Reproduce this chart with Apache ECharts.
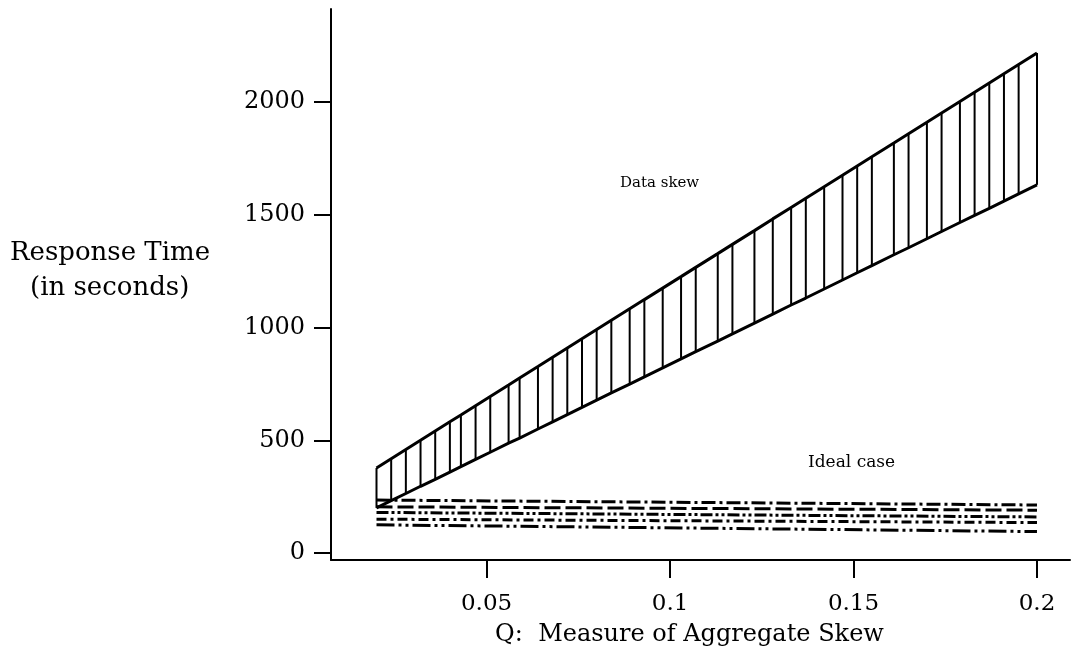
<!DOCTYPE html>
<html>
<head>
<meta charset="utf-8">
<script src="https://cdn.jsdelivr.net/npm/echarts@6/dist/echarts.min.js"></script>
<style>
  html, body { margin: 0; padding: 0; background: #fff; }
  #chart { width: 1074px; height: 654px; }
</style>
</head>
<body>
<div id="chart"></div>
<script>
// Q values where the data-skew range was measured (one hatch line each)
const skewQ = [0.020, 0.024, 0.028, 0.032, 0.036, 0.040, 0.043, 0.047, 0.051, 0.056,
    0.059, 0.064, 0.068, 0.072, 0.076, 0.080, 0.084, 0.089, 0.093, 0.098,
    0.103, 0.107, 0.113, 0.117, 0.123, 0.128, 0.133, 0.137, 0.142, 0.147,
    0.151, 0.155, 0.161, 0.165, 0.170, 0.174, 0.179, 0.183, 0.187, 0.191,
    0.195, 0.200];
const skewHigh = [377, 418, 459, 500, 541, 582, 612, 653, 694, 745,
    776, 827, 868, 909, 950, 991, 1032, 1083, 1124, 1175,
    1226, 1267, 1328, 1369, 1430, 1482, 1533, 1574, 1625, 1676,
    1717, 1758, 1819, 1860, 1911, 1952, 2003, 2044, 2085, 2126,
    2167, 2218];
const skewLow = [200, 232, 264, 296, 327, 359, 383, 415, 447, 487,
    510, 550, 582, 614, 646, 678, 710, 749, 781, 821,
    861, 893, 940, 972, 1020, 1060, 1100, 1131, 1171, 1211,
    1243, 1275, 1323, 1354, 1394, 1426, 1466, 1498, 1529, 1561,
    1593, 1633];

// ideal case lines (start and end)
const idealQ = [0.02, 0.2];
const ideal1 = [235, 213];
const ideal2 = [205, 190];
const ideal3 = [180, 160];
const ideal4 = [150, 135];
const ideal5 = [125, 95];

const xTicks = [0.05, 0.1, 0.15, 0.2];
const yTicks = [0, 500, 1000, 1500, 2000];

const FONT = 'DejaVu Serif';

function pairs(xs, ys) {
    return xs.map(function (x, i) { return [x, ys[i]]; });
}

function idealSeries(values, dash) {
    return {
        type: 'line',
        data: pairs(idealQ, values),
        symbol: 'none',
        silent: true,
        lineStyle: { color: '#000', width: 3, type: dash }
    };
}

let chart = echarts.init(document.getElementById('chart'));

let option = {
    backgroundColor: '#fff',
    animation: false,
    grid: { left: 331, right: 4, top: 9, bottom: 94 },
    xAxis: {
        type: 'value',
        min: 0.0076,
        max: 0.209,
        name: 'Q:  Measure of Aggregate Skew',
        nameLocation: 'middle',
        nameGap: 63,
        nameTextStyle: { fontFamily: FONT, fontSize: 24, color: '#000', padding: [0, 22, 0, 0] },
        axisLine: { onZero: false, lineStyle: { color: '#000', width: 2 } },
        axisTick: { customValues: xTicks, length: 18, lineStyle: { color: '#000', width: 2 } },
        axisLabel: {
            customValues: xTicks,
            margin: 33,
            fontFamily: FONT,
            fontSize: 23,
            color: '#000',
            formatter: function (v) { return String(v); }
        },
        splitLine: { show: false }
    },
    yAxis: {
        type: 'value',
        min: -31,
        max: 2413,
        axisLine: { show: true, onZero: false, lineStyle: { color: '#000', width: 2 } },
        axisTick: { show: true, customValues: yTicks, length: 17, lineStyle: { color: '#000', width: 2 } },
        axisLabel: {
            customValues: yTicks,
            margin: 26,
            fontFamily: FONT,
            fontSize: 24,
            color: '#000',
            formatter: function (v) { return String(v); }
        },
        splitLine: { show: false }
    },
    graphic: [
        {
            type: 'text', left: 10, top: 240,
            style: { text: 'Response Time', font: '26px "DejaVu Serif"', fill: '#000' }
        },
        {
            type: 'text', left: 30, top: 275,
            style: { text: '(in seconds)', font: '26px "DejaVu Serif"', fill: '#000' }
        },
        {
            type: 'text', left: 620, top: 176,
            style: { text: 'Data skew', font: '15px "DejaVu Serif"', fill: '#000' }
        },
        {
            type: 'text', left: 808, top: 454,
            style: { text: 'Ideal case', font: '17px "DejaVu Serif"', fill: '#000' }
        }
    ],
    series: [
        {
            type: 'custom',
            silent: true,
            data: skewQ.map(function (q, i) { return [q, skewLow[i], skewHigh[i]]; }),
            encode: { x: 0, y: [1, 2] },
            renderItem: function (params, api) {
                let p1 = api.coord([api.value(0), api.value(1)]);
                let p2 = api.coord([api.value(0), api.value(2)]);
                return {
                    type: 'line',
                    shape: { x1: p1[0], y1: p1[1], x2: p2[0], y2: p2[1] },
                    style: { stroke: '#000', lineWidth: 2 }
                };
            }
        },
        {
            type: 'line', data: pairs(skewQ, skewHigh), symbol: 'none', silent: true,
            lineStyle: { color: '#000', width: 3 }
        },
        {
            type: 'line', data: pairs(skewQ, skewLow), symbol: 'none', silent: true,
            lineStyle: { color: '#000', width: 3 }
        },
        idealSeries(ideal1, [14, 4, 3, 4]),
        idealSeries(ideal2, [16, 5]),
        idealSeries(ideal3, [12, 3, 3, 3, 3, 3]),
        idealSeries(ideal4, [10, 4, 3, 4]),
        idealSeries(ideal5, [18, 4, 3, 4, 3, 4])
    ]
};

chart.setOption(option);
</script>
</body>
</html>
